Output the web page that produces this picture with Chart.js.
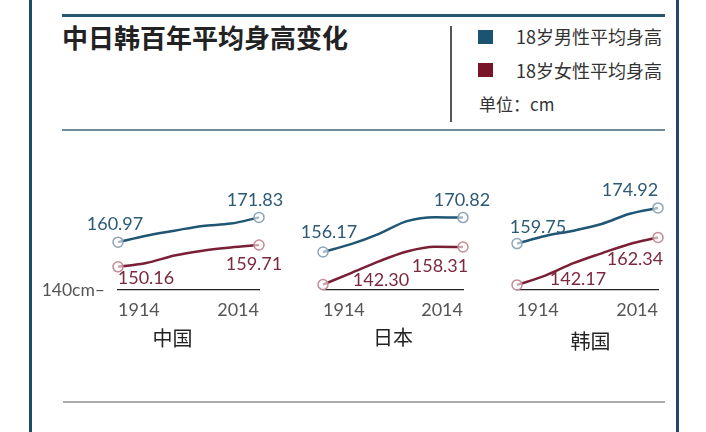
<!DOCTYPE html>
<html>
<head>
<meta charset="utf-8">
<script src="https://cdn.jsdelivr.net/npm/chart.js@4/dist/chart.umd.min.js"></script>
<style>
  body { margin: 0; background: #fff; }
  #wrap { position: relative; width: 706px; height: 432px; overflow: hidden; font-family: "Noto Sans CJK SC", sans-serif; }
  .abs { position: absolute; }
  .txt { position: absolute; white-space: nowrap; color: #333; }
  canvas { position: absolute; }
</style>
</head>
<body>
<div id="wrap">
  <div class="abs" style="left:29px;top:0;width:3px;height:432px;background:#1e4c66"></div>
  <div class="abs" style="left:676px;top:0;width:3px;height:432px;background:#1e4c66"></div>
  <div class="abs" style="left:62px;top:14px;width:603px;height:3px;background:#275670"></div>
  <div class="abs" style="left:62px;top:129px;width:603px;height:1.5px;background:#6f8c9b"></div>
  <div class="abs" style="left:63px;top:401px;width:602px;height:1.5px;background:#aaa"></div>
  <div class="abs" style="left:450px;top:26px;width:1.5px;height:96px;background:#555"></div>

  <div class="txt" id="title" style="left:62px;top:24px;font-size:26px;line-height:26px;font-weight:bold;color:#222"></div>

  <div class="abs" style="left:478px;top:30px;width:15px;height:14px;background:#1b5370"></div>
  <div class="abs" style="left:478px;top:63px;width:15px;height:14px;background:#7a1428"></div>
  <div class="txt" id="leg0" style="left:516px;top:27px;font-size:18px;line-height:18px"></div>
  <div class="txt" id="leg1" style="left:516px;top:61px;font-size:18px;line-height:18px"></div>
  <div class="txt" id="unit" style="left:479px;top:95px;font-size:17px;line-height:17px"></div>

  <canvas id="c0" width="270" height="220" style="left:30px;top:150px"></canvas>
  <canvas id="c1" width="200" height="220" style="left:300px;top:150px"></canvas>
  <canvas id="c2" width="216" height="220" style="left:490px;top:150px"></canvas>
</div>
<script>
// data
var years = [1914, 1934, 1954, 1974, 1994, 2014];
var tickYears = [1914, 2014];
var countries = ['中国', '日本', '韩国'];
var seriesNames = ['18岁男性平均身高', '18岁女性平均身高'];
var chinaMale = [160.97, 163.8, 166.0, 168.1, 169.1, 171.83];
var chinaFemale = [150.16, 151.8, 155.1, 157.2, 158.6, 159.71];
var japanMale = [156.17, 159.5, 163.9, 169.3, 171.0, 170.82];
var japanFemale = [142.30, 147.2, 152.2, 156.4, 158.4, 158.31];
var koreaMale = [159.75, 163.0, 165.25, 168.1, 172.45, 174.92];
var koreaFemale = [142.17, 146.1, 151.4, 155.6, 159.6, 162.34];
var baseLabel = '140cm–';

document.getElementById('title').textContent = '中日韩百年平均身高变化';
document.getElementById('leg0').textContent = seriesNames[0];
document.getElementById('leg1').textContent = seriesNames[1];
document.getElementById('unit').textContent = '单位：cm';

var lineColors = ['#1f5674', '#7a1f35'];
var pointColors = ['#8fa5b5', '#c48c96'];
var labelColors = ['#2d5a75', '#7b2a3d'];

var valueLabels = {
  id: 'valueLabels',
  afterDatasetsDraw: function(chart, args, opts) {
    var ctx = chart.ctx;
    ctx.save();
    ctx.textAlign = 'center';
    ctx.textBaseline = 'middle';
    ctx.font = '18px Lato';
    chart.data.datasets.forEach(function(ds, i) {
      var meta = chart.getDatasetMeta(i);
      var last = ds.data.length - 1;
      [0, last].forEach(function(idx, k) {
        var pt = meta.data[idx];
        var off = opts.offsets[i][k];
        ctx.fillStyle = labelColors[i];
        ctx.fillText(ds.data[idx].toFixed(2), pt.x + off[0], pt.y + off[1]);
      });
    });
    var area = chart.chartArea;
    ctx.font = '20px "Noto Sans CJK SC"';
    ctx.fillStyle = '#222';
    ctx.fillText(opts.name, (area.left + area.right) / 2 + opts.nameDx, area.bottom + opts.nameDy);
    ctx.restore();
  }
};

function makeChart(id, male, female, cfg) {
  var edgeRadius = function(c) {
    return (c.dataIndex === 0 || c.dataIndex === years.length - 1) ? 5 : 0;
  };
  var ds = function(values, i) {
    return {
      data: values,
      borderColor: lineColors[i],
      borderWidth: 2.5,
      cubicInterpolationMode: 'monotone',
      pointRadius: edgeRadius,
      pointHoverRadius: edgeRadius,
      pointBackgroundColor: 'rgba(255,255,255,0.6)',
      pointBorderColor: pointColors[i],
      pointBorderWidth: 1.5,
      clip: false
    };
  };
  return new Chart(document.getElementById(id), {
    type: 'line',
    data: { labels: years, datasets: [ds(male, 0), ds(female, 1)] },
    plugins: [valueLabels],
    options: {
      responsive: false,
      animation: false,
      layout: { padding: { left: cfg.padLeft, right: cfg.padRight, top: 20, bottom: 40 } },
      plugins: {
        legend: { display: false },
        tooltip: { enabled: false },
        valueLabels: { offsets: cfg.offsets, name: cfg.name, nameDx: cfg.nameDx, nameDy: cfg.nameDy }
      },
      scales: {
        x: {
          type: 'linear',
          min: 1914,
          max: 2014,
          grid: { display: false },
          border: { display: true, color: '#222', width: 1.3 },
          afterBuildTicks: function(s) { s.ticks = tickYears.map(function(v) { return { value: v }; }); },
          afterFit: function(s) { s.height = 40; },
          ticks: {
            color: '#555',
            font: { family: 'Lato', size: 18 },
            padding: 1,
            align: 'inner',
            maxRotation: 0,
            autoSkip: false,
            callback: function(v) { return String(v); }
          }
        },
        y: {
          display: cfg.showBase,
          min: 140,
          max: 191.06,
          grid: { display: false, drawTicks: false },
          border: { display: false },
          afterBuildTicks: function(s) { s.ticks = [{ value: 140 }]; },
          afterFit: function(s) { s.width = cfg.showBase ? 88 : 0; },
          ticks: {
            color: '#555',
            font: { family: 'Lato', size: 17.5 },
            padding: 13,
            callback: function() { return baseLabel; }
          }
        }
      }
    }
  });
}

makeChart('c0', chinaMale, chinaFemale, {
  padLeft: 0, padRight: 41, showBase: true, name: countries[0], nameDx: -16, nameDy: 48,
  offsets: [[[-3, -18], [-4, -17]], [[28, 11], [-5, 19]]]
});
makeChart('c1', japanMale, japanFemale, {
  padLeft: 23, padRight: 37, showBase: false, name: countries[1], nameDx: 0, nameDy: 47,
  offsets: [[[6, -20], [-1, -17]], [[58, -4], [-23, 19]]]
});
makeChart('c2', koreaMale, koreaFemale, {
  padLeft: 27, padRight: 48, showBase: false, name: countries[2], nameDx: 3, nameDy: 51,
  offsets: [[[21, -16], [-28, -18]], [[61, -6], [-23, 22]]]
});
</script>
</body>
</html>
